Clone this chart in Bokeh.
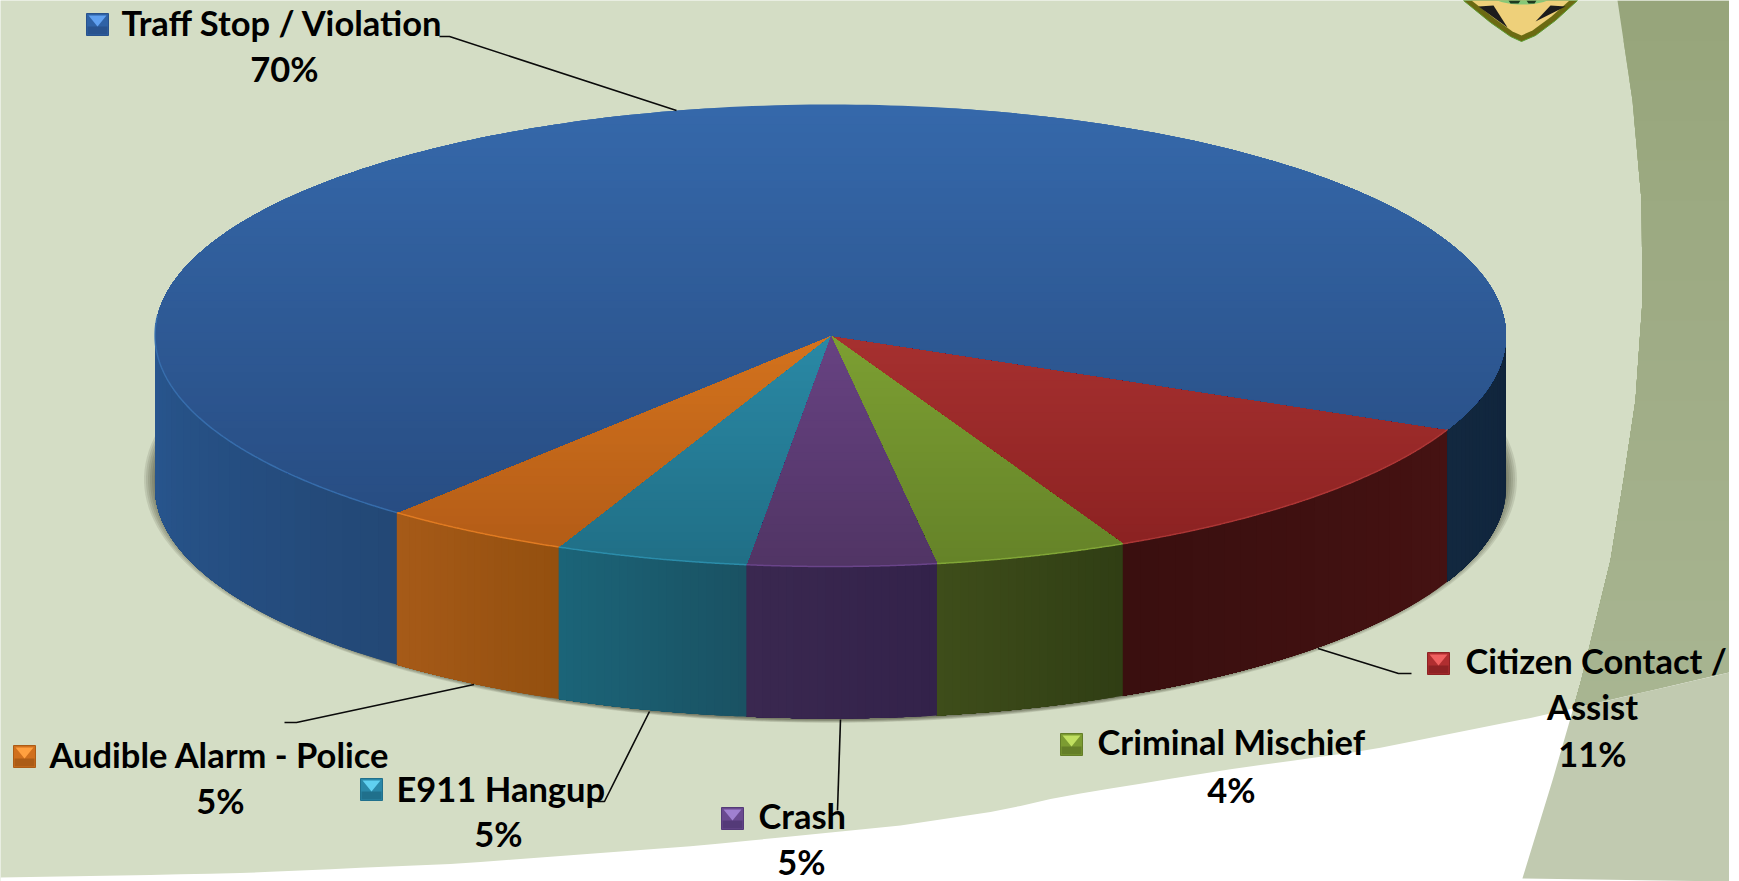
import numpy as np
from bokeh.plotting import figure
from bokeh.embed import file_html
from bokeh.resources import INLINE
from bokeh.core.properties import value

# ---------- data (clockwise from the right-hand edge of the Citizen slice) ----------
categories = ["Citizen Contact / Assist", "Criminal Mischief", "Crash",
              "E911 Hangup", "Audible Alarm - Police", "Traff Stop / Violation"]
slice_values = [11.2, 4.6, 4.5, 4.6, 4.5, 70.5]
percent_labels = ["11%", "4%", "5%", "5%", "5%", "70%"]

# ---------- styling ----------
top_hi = ["#c4403e", "#94bc3c", "#7e509f", "#33a2c4", "#f58a24", "#3568aa"]
top_lo = ["#882020", "#648228", "#503464", "#206e85", "#b05a16", "#26497d"]
wall_right = ["#451212", "#303e14", "#33224a", "#1a5263", "#94500f", "#234876"]
wall_left = ["#3a0f0f", "#3e4d1a", "#3a2850", "#1b6478", "#a65a18", "#28568f"]
rim = ["#b03a38", "#86ac3a", "#6e4890", "#2e92b0", "#e88024", "#3a72b2"]
key_mid = ["#b02e30", "#7c9c32", "#6a4a90", "#2a88a8", "#d0701e", "#2f62a6"]
key_light = ["#f06060", "#c0e060", "#a080d0", "#60d0f0", "#ffa040", "#60a0f0"]
key_dark = ["#8e2224", "#647e28", "#543a78", "#20708c", "#ac5c16", "#28528e"]

W, H = 1729, 881
CX, CY, RX, RY, DEPTH = 830.0, 335.0, 675.5, 231.0, 152.0
START_ANGLE = 24.0
BG, WHITE = "#d4ddc5", "#ffffff"
FONT, FONT_PX = "Lato", "34.5px"

p = figure(width=W, height=H, x_range=(0, W), y_range=(H, 0),
           output_backend="svg", toolbar_location=None, min_border=0,
           outline_line_color=None, background_fill_color=BG, border_fill_color=BG)
p.axis.visible = False
p.grid.visible = False


def blend(c1, c2, f):
    a = [int(c1[i:i + 2], 16) for i in (1, 3, 5)]
    b = [int(c2[i:i + 2], 16) for i in (1, 3, 5)]
    f = min(max(f, 0), 1)
    return "#%02x%02x%02x" % tuple(int(round(a[i] + (b[i] - a[i]) * f)) for i in range(3))


def clip_below(xs, ys, y0):
    ox, oy = [], []
    n = len(xs)
    for i in range(n):
        x1, y1, x2, y2 = xs[i], ys[i], xs[(i + 1) % n], ys[(i + 1) % n]
        in1, in2 = y1 >= y0, y2 >= y0
        if in1:
            ox.append(x1); oy.append(y1)
        if in1 != in2:
            f = (y0 - y1) / (y2 - y1)
            ox.append(x1 + f * (x2 - x1)); oy.append(y0)
    return ox, oy


def rim_xy(deg, dy=0.0):
    t = np.radians(deg)
    return CX + RX * np.cos(t), CY + dy + RY * np.sin(t)


# ---------- background shapes ----------
band_x = [1617, 1632, 1641, 1642, 1635, 1623, 1610, 1580, 1552, 1521]
band_y = [0, 100, 200, 300, 400, 480, 560, 683, 780, 881]
for y0 in range(0, 881, 40):
    yy = np.arange(y0, 882, 20.0)
    xx = np.interp(yy, band_y, band_x)
    col = blend("#97a57b", "#a9b592", y0 / 700)
    p.patch(list(xx) + [W, W], list(yy) + [H, y0], color=col, line_width=0)

sw_x = [0, 230, 459, 700, 900, 1000, 1061, 1221, 1366, 1542, 1729]
sw_y = [877, 873, 863, 845, 825, 810, 796, 770, 750, 715, 672]
xs_s = np.r_[np.arange(0, W, 30.0), W]
p.patch(list(xs_s) + [W, 0], list(np.interp(xs_s, sw_x, sw_y)) + [H, H], color=WHITE, line_width=0)

yy = np.arange(708, 882, 10.0)
xb = np.interp(yy, band_y, band_x)
xr = np.r_[np.arange(1573, W, 20.0), W]
p.patch(list(xb) + [W] + list(xr[::-1]), list(yy) + [H] + list(np.interp(xr[::-1], sw_x, sw_y)),
        color="#c1cab0", line_width=0)

# ---------- badge at the top edge ----------
bx = [1463, 1490, 1510, 1521, 1535, 1555, 1577, 1577, 1463]
by = [0, 22, 36, 41, 35, 20, 0, 0, 0]
p.patch(bx, by, fill_color="#6b6a12", line_color="#5a9a30", line_width=1)
p.patch([1471, 1494, 1512, 1521, 1532, 1551, 1569], [0, 18, 31, 35, 30, 16, 0],
        color="#eed07a", line_width=0)
p.patches([[1478, 1493, 1507], [1550, 1565, 1535]], [[6, 5, 27], [5, 6, 21]], color="#1c1c1c", line_width=0)
tt = np.linspace(0, np.pi, 30)
p.patch(1522 + 29 * np.cos(tt), -4 + 8 * np.sin(tt), color="#86c878", line_width=0)
p.patches([[1508, 1520, 1518, 1510], [1526, 1536, 1534, 1528]], [[0, 0, 3, 3], [0, 0, 3, 3]],
          color="#1d3a20", line_width=0)

# ---------- shadow ----------
tfull = np.linspace(0, 2 * np.pi, 240)
for k in (11, 9, 7, 5, 3, 1):
    sx = CX + (RX + k) * np.cos(tfull)
    sy = CY + DEPTH - 8 + (RY + 9 + k * 0.3) * np.sin(tfull)
    p.patch(sx, sy, color="#20280f", alpha=0.11, line_width=0)

# ---------- angles ----------
vals = np.array(slice_values, dtype=float)
spans = vals / vals.sum() * 360.0
ends = START_ANGLE + np.cumsum(spans)
starts = ends - spans

# ---------- side wall, front half only ----------
for i in range(len(categories)):
    pieces = []
    for lo, hi in ((0.0, 180.0), (360.0, 540.0)):
        a, b = max(starts[i], lo), min(ends[i], hi)
        if b > a:
            pieces.append((a, b))
    for a, b in pieces:
        dark_side = a >= 360
        c_lo = "#10243c" if dark_side else wall_right[i]
        c_hi = "#12283f" if dark_side else wall_left[i]
        steps = np.linspace(a, b, 25)[:-1]
        for n, s in enumerate(steps):
            arc = np.linspace(s, b, 60)
            rx1, ry1 = rim_xy(arc)
            rx2, ry2 = rim_xy(arc[::-1], DEPTH)
            p.patch(np.r_[rx1, rx2], np.r_[ry1, ry2], color=blend(c_lo, c_hi, n / 23), line_width=0)

# ---------- top face ----------
for i in range(len(categories)):
    arc = np.linspace(starts[i], ends[i], 260)
    ax, ay = rim_xy(arc)
    px, py = [CX] + list(ax), [CY] + list(ay)
    for y0 in range(100, 570, 8):
        cx_, cy_ = clip_below(px, py, y0)
        if len(cx_) >= 3:
            f = (y0 - 106) / (566 - 106)
            p.patch(cx_, cy_, color=blend(top_hi[i], top_lo[i], f), line_width=0)

# rim highlight
for i in range(len(categories)):
    a, b = max(starts[i], 0), min(ends[i], 185)
    if b > a:
        rx1, ry1 = rim_xy(np.linspace(a, b, 120))
        p.line(rx1, ry1, line_color=rim[i], line_width=1.5, line_alpha=0.85)

# ---------- leader lines ----------
leaders_x = [[1317.5, 1398, 1411], [], [840, 837], [649, 604, 597], [473.6, 296, 284], [676, 449, 439]]
leaders_y = [[648, 673, 673], [], [719, 810], [711, 801, 801], [684, 722, 722], [110, 36, 36]]
for lx, ly in zip(leaders_x, leaders_y):
    if lx:
        p.line(lx, ly, line_color="#0a0a0a", line_width=1.6)

# ---------- label keys ----------
key_x = [1427, 1060, 721, 360, 13, 86]
key_y = [652, 733, 807, 778, 745, 13]
KS_W, KS_H = 22, 22
for i in range(len(categories)):
    x0, y0 = key_x[i], key_y[i]
    x1, y1 = x0 + KS_W, y0 + KS_H
    p.patch([x0, x1, x1, x0], [y0, y0, y1, y1], fill_color=key_mid[i], line_color=key_dark[i], line_width=1)
    p.patch([x0 + 1, x1 - 1, x1 - 1, x0 + 1], [y0 + 13, y0 + 13, y1 - 1, y1 - 1], color=key_dark[i], line_width=0)
    p.patch([x0 + 2, x1 - 2, x0 + KS_W / 2], [y0 + 2, y0 + 2, y0 + 13], color=key_light[i], line_width=0)

# ---------- label texts ----------
line_texts = ["Citizen Contact /", "Assist", percent_labels[0],
              categories[1], percent_labels[1],
              categories[2], percent_labels[2],
              categories[3], percent_labels[3],
              categories[4], percent_labels[4],
              categories[5], percent_labels[5]]
line_x = [1465, 1592, 1592, 1097, 1231, 758, 801, 396, 498, 49, 220, 121, 284]
line_y = [660, 706, 753, 741, 789, 815, 861, 788, 833, 754, 800, 22, 68]
line_align = ["left", "center", "center", "left", "center", "left", "center",
              "left", "center", "left", "center", "left", "center"]
p.text(x=line_x, y=line_y, text=line_texts, text_align=line_align, text_baseline="middle",
       text_font=value(FONT), text_font_style="bold", text_font_size=FONT_PX, text_color="#000000")

open("out.html", "w").write(file_html(p, INLINE))
